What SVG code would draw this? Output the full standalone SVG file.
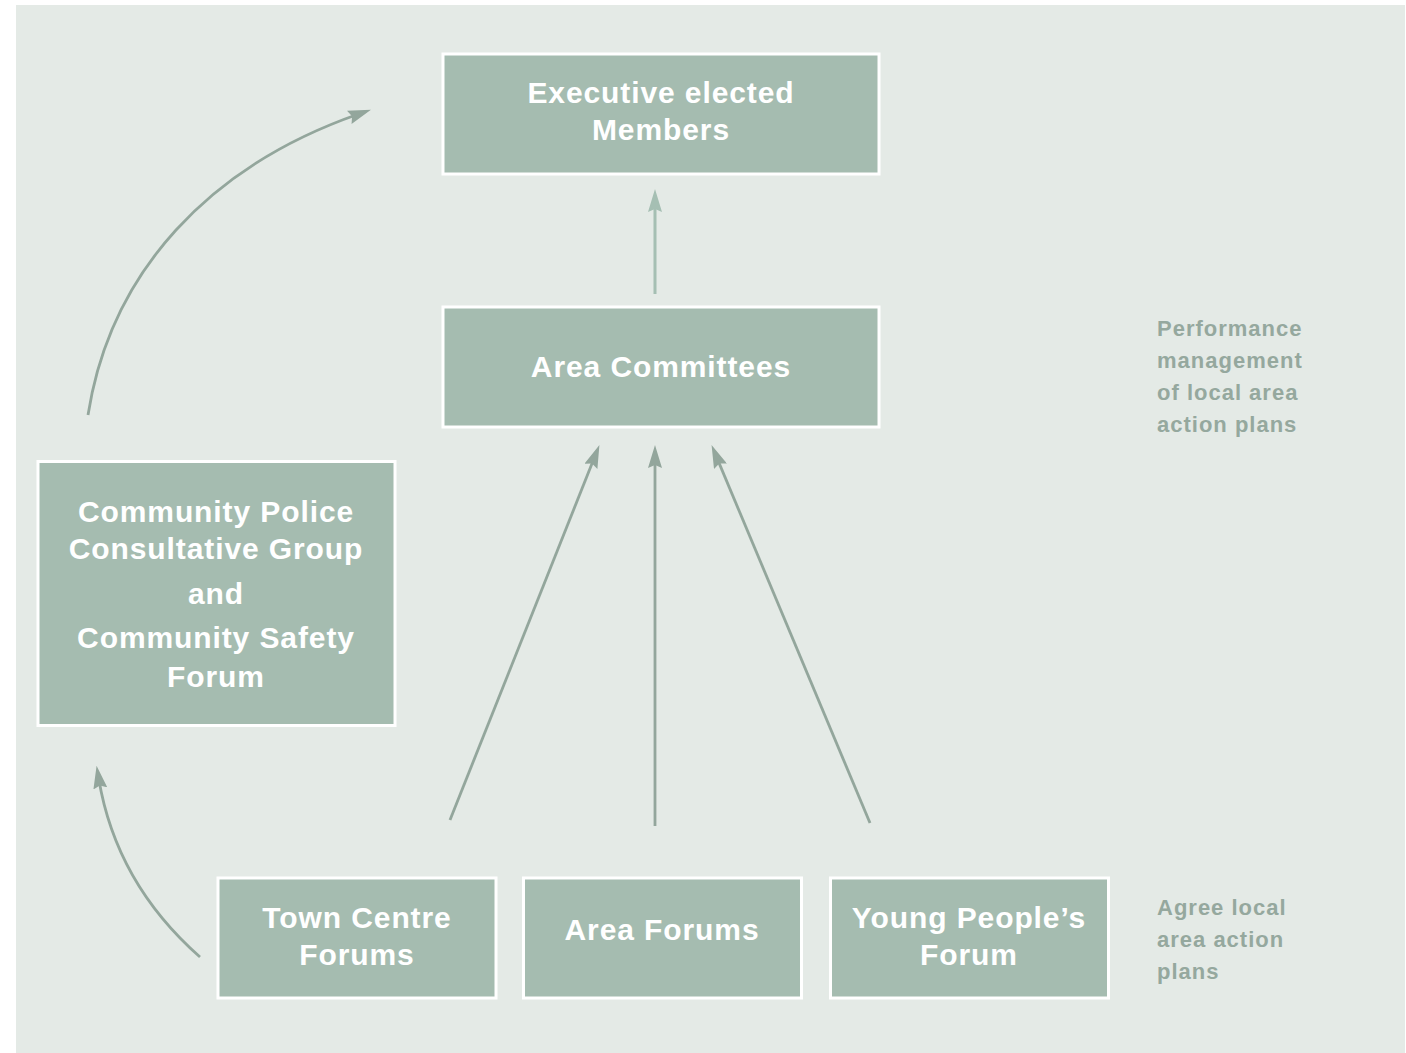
<svg xmlns="http://www.w3.org/2000/svg" width="1406" height="1053" viewBox="0 0 1406 1053">
  <defs>
    <style>
      .bg { fill: #e4eae6; }
      .box { fill: #a5bcb0; stroke: #ffffff; stroke-width: 3; }
      .lbl { font-family: "Liberation Sans", Arial, sans-serif; font-weight: bold; font-size: 30px; fill: #ffffff; text-anchor: middle; letter-spacing: 0.9px; }
      .side { font-family: "Liberation Sans", Arial, sans-serif; font-weight: bold; font-size: 22px; fill: #95a89e; letter-spacing: 1px; }
      .conn { fill: none; stroke: #93a69c; stroke-width: 2.8; }
      .conn-light { fill: none; stroke: #a5bfb3; stroke-width: 3; }
    </style>
    <marker id="arrow" markerUnits="userSpaceOnUse" viewBox="0 0 23 14" refX="10" refY="7" markerWidth="23" markerHeight="14" orient="auto">
      <path d="M0,0 L23,7 L0,14 L3,7 Z" fill="#93a69c"/>
    </marker>
    <marker id="arrow-light" markerUnits="userSpaceOnUse" viewBox="0 0 23 14" refX="10" refY="7" markerWidth="23" markerHeight="14" orient="auto">
      <path d="M0,0 L23,7 L0,14 L3,7 Z" fill="#a5bfb3"/>
    </marker>
  </defs>

  <rect class="bg" x="16" y="5" width="1389" height="1048"/>

  <g id="connectors">
    <line class="conn-light" x1="655" y1="294" x2="655" y2="202" marker-end="url(#arrow-light)"/>
    <line class="conn" x1="450" y1="820" x2="594.6" y2="457.1" marker-end="url(#arrow)"/>
    <line class="conn" x1="655" y1="826" x2="655" y2="458" marker-end="url(#arrow)"/>
    <line class="conn" x1="870" y1="823" x2="716.6" y2="457.1" marker-end="url(#arrow)"/>
    <path class="conn" d="M88,415 C110.5,271 210,166 358.7,114" marker-end="url(#arrow)"/>
    <path class="conn" d="M200,957 Q116,883 98.7,778.5" marker-end="url(#arrow)"/>
  </g>

  <g id="executive">
    <rect class="box" x="443" y="54" width="436" height="120"/>
    <text class="lbl" x="661" y="103">Executive elected</text>
    <text class="lbl" x="661" y="140">Members</text>
  </g>

  <g id="area-committees">
    <rect class="box" x="443" y="307" width="436" height="120"/>
    <text class="lbl" x="661" y="377">Area Committees</text>
  </g>

  <g id="community-police">
    <rect class="box" x="38" y="461.5" width="357" height="264"/>
    <text class="lbl" x="216" y="522">Community Police</text>
    <text class="lbl" x="216" y="559">Consultative Group</text>
    <text class="lbl" x="216" y="604">and</text>
    <text class="lbl" x="216" y="648">Community Safety</text>
    <text class="lbl" x="216" y="687">Forum</text>
  </g>

  <g id="town-centre">
    <rect class="box" x="218" y="878" width="278" height="120"/>
    <text class="lbl" x="357" y="928">Town Centre</text>
    <text class="lbl" x="357" y="965">Forums</text>
  </g>

  <g id="area-forums">
    <rect class="box" x="523.5" y="878" width="278" height="120"/>
    <text class="lbl" x="662" y="940">Area Forums</text>
  </g>

  <g id="young-people">
    <rect class="box" x="830.5" y="878" width="278" height="120"/>
    <text class="lbl" x="969" y="928">Young People’s</text>
    <text class="lbl" x="969" y="965">Forum</text>
  </g>

  <g id="note-performance">
    <text class="side" x="1157" y="336">Performance</text>
    <text class="side" x="1157" y="368">management</text>
    <text class="side" x="1157" y="400">of local area</text>
    <text class="side" x="1157" y="432">action plans</text>
  </g>

  <g id="note-agree">
    <text class="side" x="1157" y="915">Agree local</text>
    <text class="side" x="1157" y="947">area action</text>
    <text class="side" x="1157" y="979">plans</text>
  </g>
</svg>
